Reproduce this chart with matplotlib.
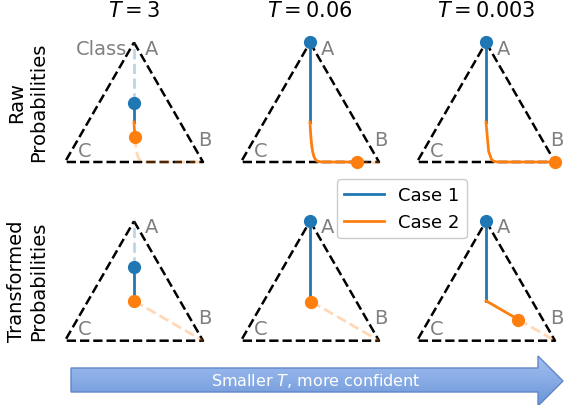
import numpy as np
import matplotlib
matplotlib.use("Agg")
import matplotlib.pyplot as plt
from matplotlib.patches import Polygon
from matplotlib.lines import Line2D

# temperatures shown in the columns
temps = [3, 0.06, 0.003]
titles = ["$T = 3$", "$T = 0.06$", "$T = 0.003$"]
row_labels = ["Raw\nProbabilities", "Transformed\nProbabilities"]
case_names = ["Case 1", "Case 2"]
vertex_names = ["A", "B", "C"]

# logits (A, B, C) of the two cases in the raw row
logits_case1 = [2.0, 0.0, 0.0]
logits_case2 = [0.0, 2.0, 1.9]

# transformed row: how far each dot sits from the centre towards its vertex
trans_case1 = [0.43, 1.0, 1.0]    # towards A
trans_case2 = [0.0, 0.02, 0.47]   # towards B

blue = "#1f77b4"
orange = "#ff7f0e"

W, H = 566, 406
fig = plt.figure(figsize=(W / 100, H / 100), dpi=100)

# triangle corners in barycentric -> cartesian
corners = {"A": np.array([0.5, np.sqrt(3) / 2]), "B": np.array([1.0, 0.0]), "C": np.array([0.0, 0.0])}
V = np.array([corners["A"], corners["B"], corners["C"]])


def to_xy(p):
    p = np.atleast_2d(p)
    return p @ V


def softmax_path(z, s):
    z = np.asarray(z)
    a = np.outer(s, z)
    a = a - a.max(axis=1, keepdims=True)
    e = np.exp(a)
    return e / e.sum(axis=1, keepdims=True)


scale = 138.0          # pixels per unit triangle side
left_px = [65, 241, 417]
base_px = [163, 341.7]
mx, my = 0.15, 0.1


def panel(row, col):
    x0 = (left_px[col] - mx * scale) / W
    y0 = 1 - (base_px[row] + my * scale) / H
    w = (1 + 2 * mx) * scale / W
    h = (np.sqrt(3) / 2 + 2 * my) * scale / H
    ax = fig.add_axes([x0, y0, w, h])
    ax.set_xlim(-mx, 1 + mx)
    ax.set_ylim(-my, np.sqrt(3) / 2 + my)
    ax.axis("off")
    tri = np.vstack([V, V[:1]])
    ax.plot(tri[:, 0], tri[:, 1], "k--", lw=1.8, zorder=1)
    A, B, C = corners["A"], corners["B"], corners["C"]
    lab = dict(color="gray", fontsize=14, va="center")
    ax.text(A[0] + 0.075, A[1] - 0.04, "A", ha="left", **lab)
    ax.text(B[0] + 0.01, B[1] + 0.165, "B", ha="center", **lab)
    ax.text(C[0] + 0.145, C[1] + 0.085, "C", ha="center", **lab)
    return ax


centre = np.array([1 / 3, 1 / 3, 1 / 3])

for col, T in enumerate(temps):
    # raw probabilities
    ax = panel(0, col)
    if col == 0:
        ax.text(0.45, corners["A"][1] - 0.04, "Class", ha="right", va="center",
                color="gray", fontsize=14)
    ax.set_title(titles[col], fontsize=15, pad=9)
    for z, c in [(logits_case1, blue), (logits_case2, orange)]:
        s_solid = np.linspace(0, 1 / T, 400)
        s_dash = np.geomspace(1 / T, 1e5, 400)
        p_solid = to_xy(softmax_path(z, s_solid))
        p_dash = to_xy(softmax_path(z, s_dash))
        ax.plot(p_dash[:, 0], p_dash[:, 1], "--", color=c, alpha=0.3, lw=2, zorder=2)
        ax.plot(p_solid[:, 0], p_solid[:, 1], "-", color=c, lw=2, zorder=3)
        ax.plot(p_solid[-1, 0], p_solid[-1, 1], "o", color=c, ms=8.5, zorder=4, clip_on=False)

    # transformed probabilities
    ax = panel(1, col)
    for frac, vert, c in [(trans_case1[col], 0, blue), (trans_case2[col], 1, orange)]:
        target = np.eye(3)[vert]
        dot = centre + frac * (target - centre)
        seg_solid = to_xy(np.vstack([centre, dot]))
        seg_dash = to_xy(np.vstack([dot, target]))
        ax.plot(seg_dash[:, 0], seg_dash[:, 1], "--", color=c, alpha=0.3, lw=2, zorder=2)
        ax.plot(seg_solid[:, 0], seg_solid[:, 1], "-", color=c, lw=2, zorder=3)
        ax.plot(seg_solid[-1, 0], seg_solid[-1, 1], "o", color=c, ms=8.5, zorder=4, clip_on=False)

# row labels
for r, lbl in enumerate(row_labels):
    yc = 1 - (base_px[r] - 60.5) / H
    fig.text(28 / W, yc, lbl, rotation=90, ha="center", va="center", fontsize=14)

# legend
handles = [Line2D([], [], color=blue, lw=2), Line2D([], [], color=orange, lw=2)]
fig.legend(handles, case_names, loc="upper left", bbox_to_anchor=(337 / W, 1 - 180 / H),
           fontsize=13, borderaxespad=0, handlelength=2.2, framealpha=1)

# bottom arrow with blue gradient
bg = fig.add_axes([0, 0, 1, 1], zorder=-1)
bg.set_xlim(0, W)
bg.set_ylim(H, 0)
bg.axis("off")
arrow_pts = [(71, 369), (538, 369), (538, 357), (563, 382), (538, 407), (538, 393), (71, 393)]
poly = Polygon(arrow_pts, closed=True, facecolor="none", edgecolor="#5f86c8", lw=1)
bg.add_patch(poly)
grad = np.linspace(0, 1, 64).reshape(-1, 1)
cmap = matplotlib.colors.LinearSegmentedColormap.from_list("g", ["#a2c0f0", "#6b95d8"])
im = bg.imshow(grad, extent=(71, 563, 407, 357), cmap=cmap, aspect="auto", origin="upper")
im.set_clip_path(poly)
bg.text(316, 381, "Smaller $T$, more confident", color="white", fontsize=11.5,
        ha="center", va="center")

fig.savefig("out.png", dpi=100)
